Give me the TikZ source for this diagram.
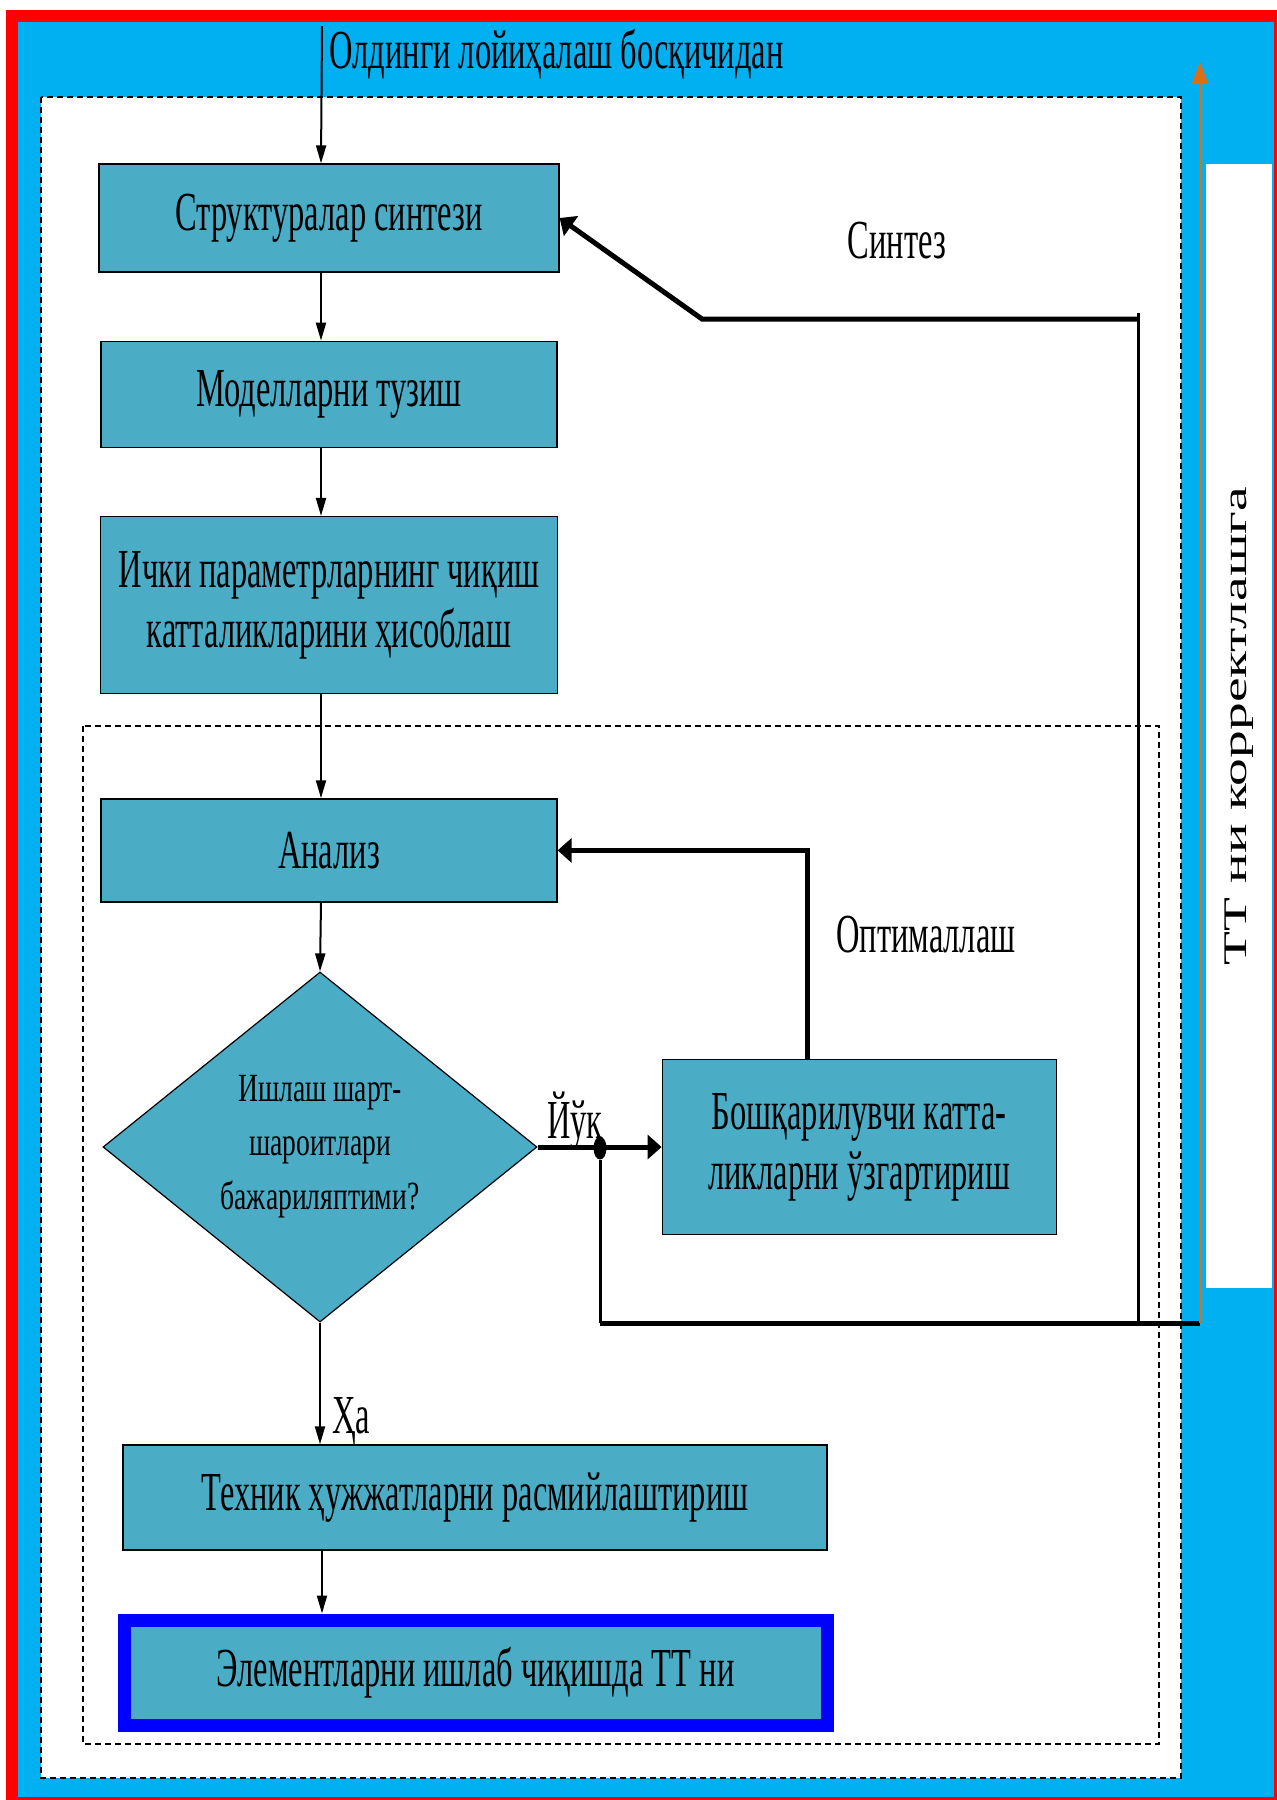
\documentclass[tikz,border=0pt]{standalone}
\usepackage{fontspec}
\newfontfamily\boxfont[FakeStretch=0.59]{Liberation Serif}
\newfontfamily\askfont[FakeStretch=0.69]{Liberation Serif}
\newfontfamily\sidefont[FakeStretch=1.68]{Liberation Serif}
\usetikzlibrary{positioning, shapes.geometric, arrows.meta}
\definecolor{skyfill}{RGB}{0,176,240}
\definecolor{tealfill}{RGB}{75,172,198}
\definecolor{corrorange}{RGB}{220,110,20}

\begin{document}
\begin{tikzpicture}[x=1pt, y=-1pt,
	blk/.style={rectangle, draw, line width=1.3pt, fill=tealfill, align=center, inner sep=0pt, font=\boxfont\fontsize{55}{60}\selectfont},
	ask/.style={diamond, draw, line width=1.2pt, fill=tealfill, align=center, inner sep=0pt, aspect=1.24, minimum width=434pt, minimum height=350pt, font=\askfont\fontsize{40}{54}\selectfont},
	lbl/.style={inner sep=0pt, font=\boxfont\fontsize{55}{60}\selectfont},
	dot/.style={ellipse, fill=black, inner sep=0pt, minimum width=13pt, minimum height=23pt},
	thin/.style={line width=2pt, -{Triangle[length=18pt, width=10pt]}},
	fat/.style={line width=5pt, -{Triangle[length=14pt, width=24pt]}},
	frame/.style={dash pattern=on 6pt off 4pt, line width=2pt}]
		\useasboundingbox (0,0) rectangle (1277,1800);
		\fill[red] (6,10) rectangle (1277,1800);
		\fill[skyfill] (18,22) rectangle (1274,1797);
		\draw[frame, fill=white] (41,97) rectangle (1181,1778);
		\draw[frame, line width=1.5pt] (83,726) rectangle (1159,1744);

		\node[rotate=90, fill=white, inner sep=0pt, minimum width=1124pt, minimum height=66pt, font=\sidefont\fontsize{33}{36}\selectfont] (corr) at (1239,726) {ТТ ни корректлашга};

		\node[blk, minimum width=460pt, minimum height=108pt] (synth) at (329,218) {Структуралар синтези};
		\node[blk, below=68pt of synth, minimum width=456pt, minimum height=106pt] (model) {Моделларни тузиш};
		\node[blk, below=68pt of model, minimum width=457pt, minimum height=177pt] (calc) {Ички параметрларнинг чиқиш\\катталикларини ҳисоблаш};
		\node[blk, below=104pt of calc, minimum width=456pt, minimum height=103pt] (anal) {Анализ};
		\node[ask] (cond) at (320,1147) {Ишлаш шарт-\\шароитлари\\бажариляптими?};
		\node[blk, right=124pt of cond, minimum width=394pt, minimum height=175pt] (change) {Бошқарилувчи катта-\\ликларни ўзгартириш};
		\node[blk, minimum width=704pt, minimum height=105pt] (docs) at (475,1497.5) {Техник ҳужжатларни расмийлаштириш};
		\node[blk, draw=blue, line width=13pt, minimum width=703pt, minimum height=105pt] (spec) at (475.5,1672.5) {Элементларни ишлаб чиқишда ТТ ни};

		\node[lbl, anchor=base west] (from) at (329,68) {Олдинги лойиҳалаш босқичидан};
		\node[lbl, anchor=base] (syntxt) at (897,258) {Синтез};
		\node[lbl, anchor=base] (opttxt) at (926,952) {Оптималлаш};
		\node[lbl, anchor=base] (notxt) at (575,1138) {Йўк};
		\node[lbl, anchor=base west] (yestxt) at (332,1433) {Ҳа};

		\coordinate (spine) at (321,0);
		\coordinate (entry) at (322,26);
		\coordinate (optx) at (807,0);
		\coordinate (risetop) at (1138,313);
		\coordinate (synjoin) at (1138,319);
		\coordinate (synbend) at (702,319);
		\coordinate (loopcorner) at (600,1323);
		\coordinate (loopend) at (1200,1323);
		\coordinate (corrtop) at (1200,62);

		% main flow
		\draw[thin] (entry) -- (synth.north -| spine);
		\draw[thin] (synth.south -| spine) -- (model.north -| spine);
		\draw[thin] (model.south -| spine) -- (calc.north -| spine);
		\draw[thin] (calc.south -| spine) -- (anal.north -| spine);
		\draw[thin] (anal.south -| spine) -- (cond.north);
		\draw[thin] (cond.south) -- (docs.north -| cond.south);
		\draw[thin] (docs.south -| entry) -- (spec.north -| entry);

		% feedback loops
		\draw[fat] (cond.east) -- (change.west);
		\node[dot] (split) at (600,1148) {};
		\draw[line width=3pt] (split) -- (loopcorner);
		\draw[line width=5pt] (loopcorner) -- (loopend);
		\draw[line width=3pt] (risetop) -- (loopend -| risetop);
		\draw[fat] (synjoin) -- (synbend) -- (synth.east);
		\draw[fat] (change.north -| optx) |- (anal.east);
		\draw[line width=3pt, corrorange, -{Triangle[length=22pt, width=16pt]}] (loopend) -- (corrtop);
	\end{tikzpicture}
\end{document}
